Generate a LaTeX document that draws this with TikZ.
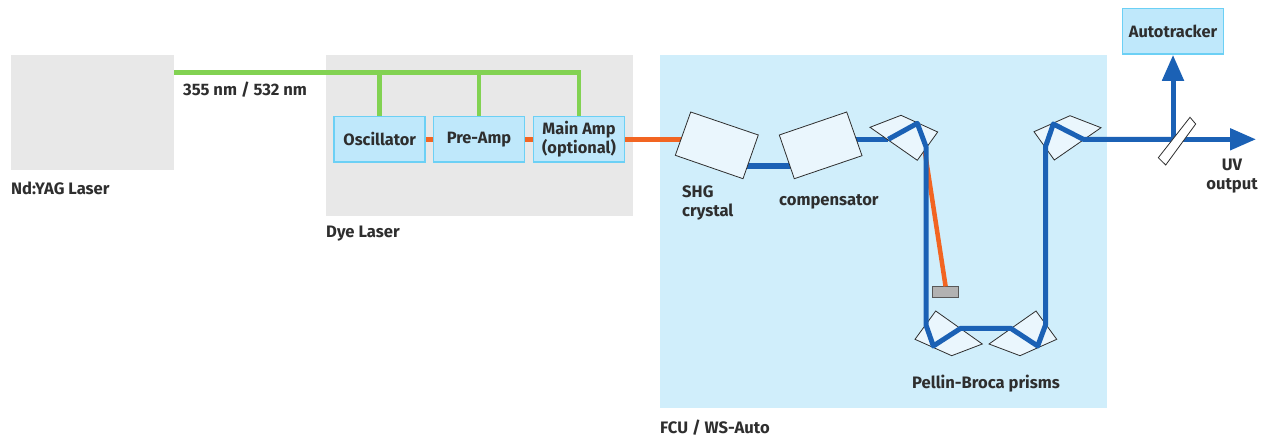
\documentclass[tikz,border=0pt]{standalone}
\usepackage{fontspec}
\setmainfont{Fira Sans}
\usepackage{tikz}
\usetikzlibrary{arrows.meta}
\definecolor{greybg}{HTML}{E8E8E8}
\definecolor{fcubg}{HTML}{D0EEFB}
\definecolor{boxfill}{HTML}{BFE8FB}
\definecolor{boxline}{HTML}{6CD0F5}
\definecolor{pumpgreen}{HTML}{82D252}
\definecolor{dyeorange}{HTML}{F26522}
\definecolor{uvblue}{HTML}{1B61B5}
\definecolor{inktext}{HTML}{2E2E2E}
\definecolor{glassblue}{HTML}{EAF6FD}
\tikzset{
  area/.style={fill=#1, draw=none, inner sep=0pt, anchor=north west},
  labeltext/.style={font=\bfseries\fontsize{16.6}{19}\selectfont, text=inktext, inner sep=0pt, align=left},
  laserbox/.style={draw=boxline, fill=boxfill, line width=1.6pt, minimum width=91pt, minimum height=45.5pt, inner sep=0pt, align=center, font=\bfseries\fontsize{16.4}{17}\selectfont, text=inktext},
  pumpbeam/.style={draw=pumpgreen, line width=4.5pt},
  dyebeam/.style={draw=dyeorange, line width=4.5pt},
  uvbeam/.style={draw=uvblue, line width=5pt, line join=round},
  glass/.style={draw=inktext, line width=0.8pt, left color=glassblue, middle color=white, right color=glassblue, shading angle=20},
}
\begin{document}
\begin{tikzpicture}[x=1pt, y=-1pt]
  \useasboundingbox (0,0) rectangle (1271,439);

  % Background areas
  \node[area=greybg, minimum width=163pt, minimum height=115pt] (yag) at (11,55) {};
  \node[area=greybg, minimum width=307pt, minimum height=161pt] (dye) at (326,55) {};
  \node[area=fcubg, minimum width=447pt, minimum height=353pt] (fcu) at (660,55) {};

  % Boxes
  \node[laserbox] (osc) at (379.7,139.3) {Oscillator};
  \node[laserbox] (preamp) at (479,139.3) {Pre-Amp};
  \node[laserbox] (mainamp) at (579,139.3) {Main Amp\\(optional)};
  \node[laserbox, minimum width=101pt] (auto) at (1173,31.3) {Autotracker};

  % Beam points
  \coordinate (pumpstart) at (174,72.7);
  \coordinate (pumpend) at (581,72.7);
  \coordinate (shgin) at (683,139.3);
  \coordinate (shgout) at (740,166);
  \coordinate (compin) at (797,166);
  \coordinate (compout) at (855,139.3);
  \coordinate (a1) at (888.3,139.3);
  \coordinate (a2) at (917.3,123.3);
  \coordinate (a3) at (926,146.7);
  \coordinate (b1) at (926,325);
  \coordinate (b2) at (933.3,346);
  \coordinate (b3) at (960.7,328.3);
  \coordinate (c1) at (1010.7,328.3);
  \coordinate (c2) at (1037.7,346);
  \coordinate (c3) at (1045.5,325);
  \coordinate (d1) at (1045.5,146.7);
  \coordinate (d2) at (1053.3,124);
  \coordinate (d3) at (1083.3,139.3);
  \coordinate (split) at (1173,139.3);
  \coordinate (uvend) at (1256,139.3);
  \coordinate (orstart) at (924,146);

  % Green pump beam
  \draw[pumpbeam] (pumpstart) -- (pumpend);
  \foreach \n in {osc,preamp,mainamp}
      \draw[pumpbeam] (\n |- pumpstart) -- (\n.north);

  % Orange dye beam
  \draw[dyebeam] (osc) -- (preamp);
  \draw[dyebeam] (preamp) -- (mainamp);
  \draw[dyebeam] (mainamp) -- (shgin);

  % Beam dump
  \node[draw=inktext!80, fill=black!30, line width=0.8pt, minimum width=26.5pt, minimum height=10.5pt, inner sep=0pt] (dump) at (945.6,292) {};
  \draw[dyebeam] (orstart) -- (dump.north);

  % Crystal and compensator
  \draw[uvbeam, line width=6pt] (shgout) -- (compin);
  \draw[uvbeam] (compout) -- (a1);
  \draw[glass] (690.7,112) -- (758.3,135) -- (743,178.7) -- (675.3,155.3) -- cycle;
  \draw[glass] (779.3,135) -- (846.7,112) -- (862,155.7) -- (794.3,178.7) -- cycle;

  % Prisms
  \draw[glass] (870,127.3) -- (901,115.3) -- (937.7,132) -- (917.3,160.3) -- cycle;
  \draw[glass] (915,339.3) -- (935.7,311) -- (982.3,344) -- (951.7,355.7) -- cycle;
  \draw[glass] (989,344) -- (1036,311) -- (1056.7,339.3) -- (1020,355.7) -- cycle;
  \draw[glass] (1034,131.7) -- (1070,115.7) -- (1101,127.7) -- (1054.3,160) -- cycle;

  % Blue UV beam
  \draw[uvbeam] (a1) -- (a2) -- (a3) -- (b1) -- (b2) -- (b3) -- (c1) -- (c2) -- (c3) -- (d1) -- (d2) -- (d3) -- (split);
  \draw[uvbeam, -{Triangle[length=26pt, width=21pt]}] (split) -- (auto);
  \draw[uvbeam, -{Triangle[length=26pt, width=21pt]}] (split) -- (uvend);

  % Beam splitter
  \draw[draw=inktext, line width=0.8pt, fill=white] (1190,117.3) -- (1195.7,124) -- (1165.7,165) -- (1158.3,157.7) -- cycle;

  % Labels
  \node[labeltext, anchor=west] (yaglabel) at (11,188.5) {Nd:YAG Laser};
  \node[labeltext, anchor=west] (wavelabel) at (183,89.5) {355 nm / 532 nm};
  \node[labeltext, anchor=west] (dyelabel) at (326,233.5) {Dye Laser};
  \node[labeltext, anchor=west] (fculabel) at (660,427.5) {FCU / WS-Auto};
  \node[labeltext, anchor=west] (shglabel) at (682,202.5) {SHG\\crystal};
  \node[labeltext, anchor=west] (complabel) at (779,202) {compensator};
  \node[labeltext, anchor=west] (pellinlabel) at (912,383.5) {Pellin-Broca prisms};
  \node[labeltext, align=center] (uvlabel) at (1232,176.5) {UV\\output};
\end{tikzpicture}
\end{document}
